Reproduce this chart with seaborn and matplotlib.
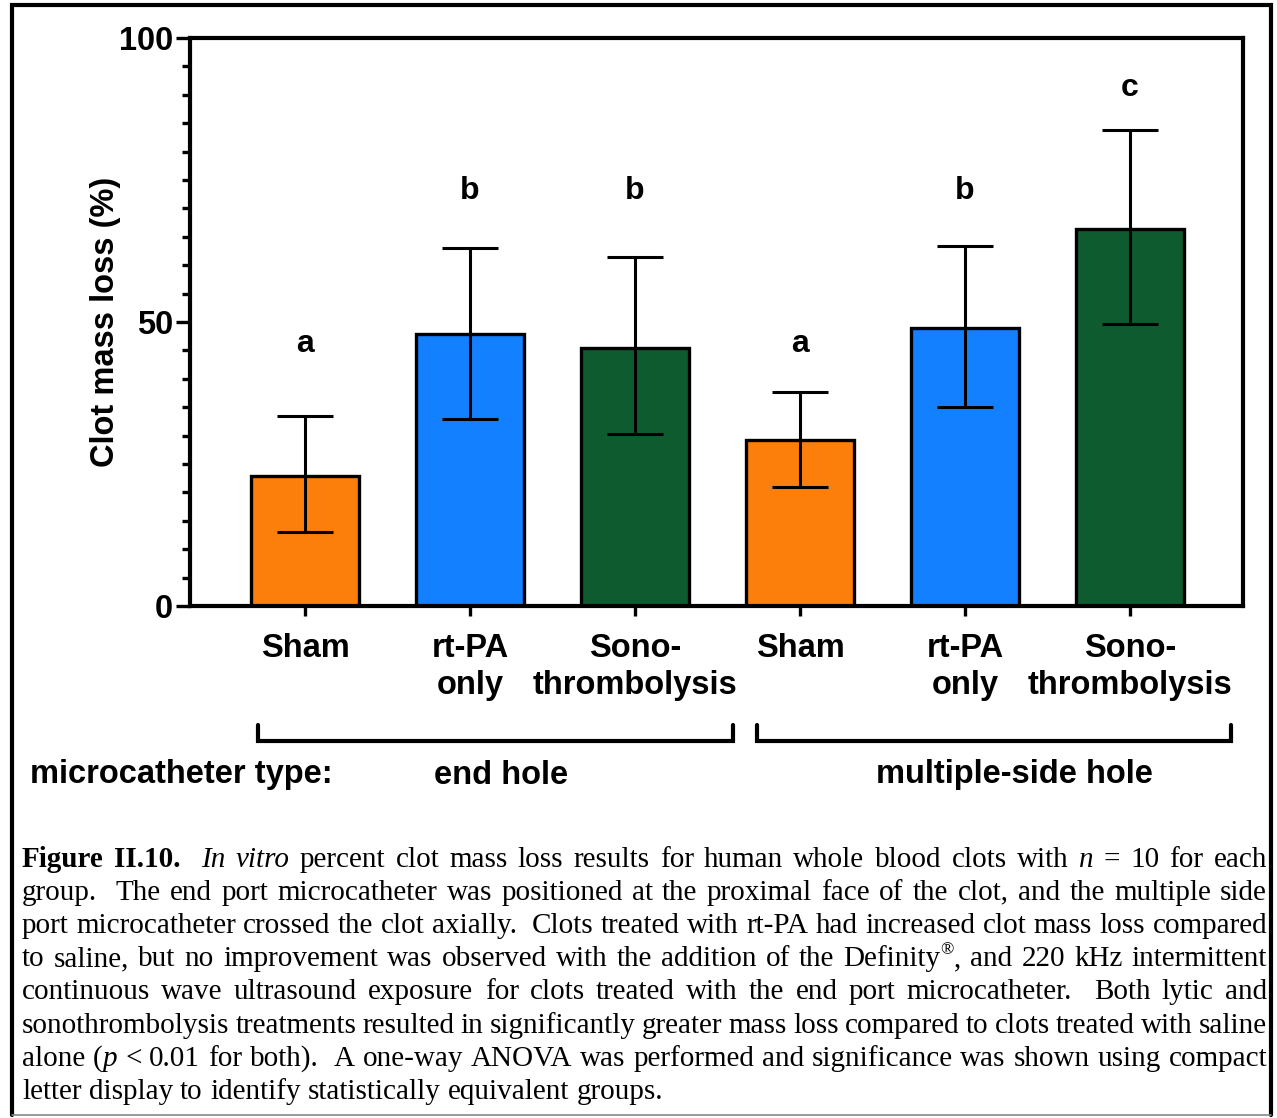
import re
import numpy as np
import pandas as pd
import matplotlib
matplotlib.use("Agg")
import matplotlib.pyplot as plt
import matplotlib.transforms as mtransforms
from matplotlib.lines import Line2D
import seaborn as sns

# ---------------- data ----------------
group_keys = ["end-sham", "end-rtpa", "end-sono", "side-sham", "side-rtpa", "side-sono"]
tick_labels = ["Sham", "rt-PA\nonly", "Sono-\nthrombolysis", "Sham", "rt-PA\nonly", "Sono-\nthrombolysis"]
mean_loss = [22.9, 47.8, 45.5, 29.3, 49.0, 66.3]
err_upper = [33.4, 63.1, 61.4, 37.7, 63.4, 83.8]
err_lower = [13.1, 33.0, 30.2, 21.0, 35.1, 49.7]
cld_letters = ["a", "b", "b", "a", "b", "c"]
cld_baseline = [44.8, 71.7, 71.7, 44.8, 71.7, 89.8]
bar_colors = ["#FC7F0B", "#1380FF", "#0F5B30", "#FC7F0B", "#1380FF", "#0F5B30"]
catheter_types = ["end hole", "multiple-side hole"]

caption_lines = [
    "<b>Figure II.10.</b>  <i>In vitro</i> percent clot mass loss results for human whole blood clots with <i>n</i> = 10 for each",
    "group.  The end port microcatheter was positioned at the proximal face of the clot, and the multiple side",
    "port microcatheter crossed the clot axially.  Clots treated with rt-PA had increased clot mass loss compared",
    "to saline, but no improvement was observed with the addition of the Definity<sup>®</sup>, and 220 kHz intermittent",
    "continuous wave ultrasound exposure for clots treated with the end port microcatheter.  Both lytic and",
    "sonothrombolysis treatments resulted in significantly greater mass loss compared to clots treated with saline",
    "alone (<i>p</i> < 0.01 for both).  A one-way ANOVA was performed and significance was shown using compact",
    "letter display to identify statistically equivalent groups.",
]

# ---------------- style ----------------
sns.set_style("ticks")
plt.rcParams["font.family"] = ["Liberation Sans", "DejaVu Sans"]
plt.rcParams["font.weight"] = "bold"
for k in ["text.color", "axes.labelcolor", "xtick.color", "ytick.color", "axes.edgecolor"]:
    plt.rcParams[k] = "black"

W, H = 1277, 1118
fig = plt.figure(figsize=(W / 100, H / 100), dpi=100)
fig.patch.set_facecolor("white")

ax_l, ax_r, ax_t, ax_b = 190, 1243, 38, 606
ax = fig.add_axes([ax_l / W, 1 - ax_b / H, (ax_r - ax_l) / W, (ax_b - ax_t) / H])

df = pd.DataFrame({"group": group_keys, "loss": mean_loss})
sns.barplot(data=df, x="group", y="loss", hue="group", palette=bar_colors,
            saturation=1, legend=False, errorbar=None, width=0.65, edgecolor="black",
            linewidth=2.4, ax=ax, zorder=2)

means = np.array(mean_loss)
yerr = np.vstack([means - np.array(err_lower), np.array(err_upper) - means])
ax.errorbar(np.arange(len(means)), means, yerr=yerr, fmt="none", ecolor="black",
            elinewidth=2.2, capsize=20, capthick=2.2, zorder=3)

for i, (let, yb) in enumerate(zip(cld_letters, cld_baseline)):
    ax.text(i, yb, let, ha="center", va="baseline", fontsize=23, fontweight="bold",
            color="black")

ax.set_ylim(0, 100)
ax.set_xlim(-0.697, 5.685)
ax.set_yticks([0, 50, 100])
ax.set_yticks(np.arange(5, 100, 5), minor=True)
ax.set_yticklabels(["0", "50", "100"], fontsize=23.5, fontweight="bold")
ax.set_xticks(range(len(tick_labels)))
ax.set_xticklabels(tick_labels, fontsize=23.5, fontweight="bold", linespacing=1.25,
                   multialignment="center")
ax.set_xlabel("")
ax.set_ylabel("Clot mass loss (%)", fontsize=23.5, fontweight="bold", color="black")
ax.yaxis.set_label_coords(-0.066, 0.5)

for s in ax.spines.values():
    s.set_visible(True)
    s.set_linewidth(3)
    s.set_color("black")
ax.tick_params(axis="y", which="major", length=10, width=2.4, pad=2, color="black",
               labelcolor="black")
ax.tick_params(axis="y", which="minor", length=6, width=2.4, color="black")
ax.tick_params(axis="x", which="major", length=7.5, width=2.4, pad=12, color="black",
               labelcolor="black")

# brackets for catheter types
trans = mtransforms.blended_transform_factory(ax.transData, ax.transAxes)
y_top_b = (ax_b - 725) / (ax_b - ax_t)
y_bar_b = (ax_b - 741) / (ax_b - ax_t)
spans = [(-0.285, 2.594), (2.739, 5.612)]
text_x = [1.19, 4.30]
y_txt = (ax_b - 775) / (ax_b - ax_t)
for (x0, x1), tx, name in zip(spans, text_x, catheter_types):
    ax.plot([x0, x0, x1, x1], [y_top_b, y_bar_b, y_bar_b, y_top_b], color="black",
            lw=3, transform=trans, clip_on=False, solid_joinstyle="miter")
    ax.text(tx, y_txt, name, transform=trans, ha="center", va="center",
            fontsize=23.5, fontweight="bold", color="black")
fig.text(30 / W, 1 - 775 / H, "microcatheter type:", ha="left", va="center",
         fontsize=23.5, fontweight="bold", color="black")

# ---------------- caption (justified) ----------------
def parse_line(line):
    runs, pos = [], 0
    for m in re.finditer(r"<(b|i|sup)>(.*?)</\1>", line):
        if m.start() > pos:
            runs.append(("n", line[pos:m.start()]))
        runs.append((m.group(1), m.group(2)))
        pos = m.end()
    if pos < len(line):
        runs.append(("n", line[pos:]))
    words, cur, spaces = [], [], 0
    for style, text in runs:
        buf = ""
        for ch in text:
            if ch == " ":
                if buf:
                    cur.append((style, buf))
                    buf = ""
                if cur:
                    words.append((cur, spaces))
                    cur, spaces = [], 0
                spaces += 1
            else:
                buf += ch
        if buf:
            cur.append((style, buf))
    if cur:
        words.append((cur, spaces))
    return words

cap_size = 21
serif = ["Liberation Serif", "DejaVu Serif"]
renderer = fig.canvas.get_renderer()

def make_text(style, txt):
    kw = dict(fontsize=cap_size, family=serif, fontweight="normal", fontstyle="normal",
              ha="left", va="baseline", color="black")
    if style == "b":
        kw["fontweight"] = "bold"
    elif style == "i":
        kw["fontstyle"] = "italic"
    elif style == "sup":
        kw["fontsize"] = cap_size * 0.6
    return fig.text(0, 0, txt, **kw)

tmp1 = make_text("n", "x x")
tmp2 = make_text("n", "xx")
space_w = tmp1.get_window_extent(renderer).width - tmp2.get_window_extent(renderer).width
tmp1.remove(); tmp2.remove()

cap_x0, cap_x1 = 22, 1267
line_y0, line_dy = 857, 33.2
em_px = cap_size * 100 / 72
for li, line in enumerate(caption_lines):
    words = parse_line(line)
    items = []
    total_w = 0
    for segs, sp in words:
        objs = []
        ww = 0
        for style, txt in segs:
            t = make_text(style, txt)
            w = t.get_window_extent(renderer).width
            objs.append((t, style, w))
            ww += w
        items.append((objs, sp, ww))
        total_w += ww
    n_sp = sum(sp for _, sp, _ in items[1:])
    if li < len(caption_lines) - 1 and n_sp > 0:
        gap = (cap_x1 - cap_x0 - total_w) / n_sp
    else:
        gap = space_w
    base_y = line_y0 + li * line_dy + 0.33 * em_px
    x = cap_x0
    for k, (objs, sp, ww) in enumerate(items):
        if k > 0:
            x += sp * gap
        for t, style, w in objs:
            yy = base_y - (0.42 * em_px if style == "sup" else 0)
            t.set_position((x / W, 1 - yy / H))
            x += w

# ---------------- frame ----------------
def fig_line(xs, ys, **kw):
    fig.add_artist(Line2D([v / W for v in xs], [1 - v / H for v in ys],
                          transform=fig.transFigure, **kw))

fig_line([12, 12, 1271, 1271], [1115, 5, 5, 1115], color="black", lw=3,
         solid_joinstyle="miter")
fig_line([12, 1271], [1115, 1115], color="#888888", lw=1.2)

fig.savefig("out.png", dpi=100, facecolor="white")
